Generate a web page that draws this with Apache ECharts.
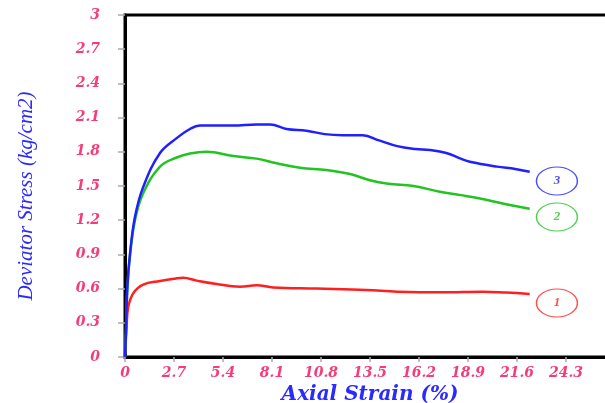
<!DOCTYPE html>
<html><head><meta charset="utf-8">
<script src="https://cdn.jsdelivr.net/npm/echarts@6/dist/echarts.min.js"></script>
<style>html,body{margin:0;padding:0;background:#fff}#c{width:605px;height:403px}</style>
</head><body><div id="c"></div>
<script>
const xTickLabels = ['0','2.7','5.4','8.1','10.8','13.5','16.2','18.9','21.6','24.3','27'];
const yTickLabels = ['0','0.3','0.6','0.9','1.2','1.5','1.8','2.1','2.4','2.7','3'];

const strain3 = [0,0.05,0.13,0.28,0.55,1.0,1.93,2.85,3.58,4.13,5.05,5.96,7.25,8.0,8.9,10.0,11.0,12.0,13.1,14.0,15.0,16.0,16.8,17.7,18.5,19.0,20.5,21.5,22.3];
const stress3 = [0,0.21,0.62,0.91,1.23,1.49,1.79,1.92,2.0,2.03,2.03,2.03,2.04,2.04,2.0,1.985,1.955,1.945,1.945,1.90,1.85,1.825,1.816,1.79,1.74,1.713,1.67,1.65,1.625];

const strain2 = [0,0.05,0.13,0.28,0.55,1.0,1.93,2.85,3.58,4.5,5.97,7.25,8.36,9.64,11.1,12.4,13.5,14.5,15.9,17.35,18.5,19.56,21.0,22.3];
const stress2 = [0,0.21,0.6,0.9,1.2,1.436,1.67,1.75,1.785,1.80,1.763,1.74,1.70,1.66,1.64,1.605,1.55,1.52,1.50,1.45,1.42,1.39,1.34,1.30];

const strain1 = [0,0.09,0.18,0.46,1.0,1.93,2.85,3.2,3.95,5.05,6.34,7.25,8.17,10.56,13.3,15.0,17.5,19.7,21.0,22.3];
const stress1 = [0,0.27,0.44,0.56,0.635,0.667,0.69,0.695,0.67,0.64,0.617,0.63,0.61,0.60,0.588,0.573,0.567,0.573,0.565,0.553];

const tagNames = ['1','2','3'];
const tagStrain = [23.8,23.8,23.8];
const tagStress = [0.474,1.228,1.544];
const colors = ['#ff1f1f','#22c422','#1f1fff'];

const zip = (a,b)=>a.map((v,i)=>[v,b[i]]);
const pink = '#f53c78';
const tickFont = {fontFamily:'DejaVu Serif',fontStyle:'italic',fontWeight:'bold',fontSize:14,color:pink};

const chart = echarts.init(document.getElementById('c'));
const lineS = (d,c)=>({type:'line',data:d,smooth:0.4,symbol:'none',lineStyle:{color:c,width:2.5},z:3});
chart.setOption({
  animation:false,
  grid:{left:125,top:15,width:490,height:342,outerBoundsMode:'none',containLabel:false,show:true,borderColor:'#000',borderWidth:3,backgroundColor:'transparent'},
  xAxis:{type:'value',min:0,max:27,interval:2.7,
    name:'Axial Strain (%)',nameLocation:'middle',nameGap:26,
    nameTextStyle:{fontFamily:'DejaVu Serif',fontStyle:'italic',fontWeight:'bold',fontSize:20,color:'#2a2aff'},
    axisLine:{lineStyle:{color:'#000',width:3}},
    axisTick:{inside:false,length:5,lineStyle:{color:'#aaa',width:1.5}},
    axisLabel:Object.assign({margin:9,showMaxLabel:false,formatter:v=>xTickLabels[Math.round(v/2.7)]},tickFont),
    splitLine:{show:false}},
  yAxis:{type:'value',min:0,max:3,interval:0.3,
    name:'Deviator Stress (kg/cm2)',nameLocation:'middle',nameGap:88,nameRotate:90,
    nameTextStyle:{fontFamily:'Liberation Serif',fontStyle:'italic',fontSize:21,color:'#2a2aff',padding:[0,20,0,0]},
    axisLine:{lineStyle:{color:'#000',width:3}},
    axisTick:{inside:false,length:7,lineStyle:{color:'#aaa',width:1.5}},
    axisLabel:Object.assign({margin:25,formatter:v=>yTickLabels[Math.round(v/0.3)]},tickFont),
    splitLine:{show:false}},
  series:[
    lineS(zip(strain1,stress1),colors[0]),
    lineS(zip(strain2,stress2),colors[1]),
    lineS(zip(strain3,stress3),colors[2]),
    {type:'scatter',symbol:'circle',symbolSize:[41,28],z:4,
     data:tagNames.map((n,i)=>({value:[tagStrain[i],tagStress[i]],name:n,
       itemStyle:{color:'rgba(255,255,255,0)',borderColor:colors[i],borderWidth:1.2,opacity:0.8},
       label:{show:true,position:'inside',formatter:n,color:colors[i],fontFamily:'Liberation Serif',fontStyle:'italic',fontWeight:'bold',fontSize:13}}))}
  ]
});
</script></body></html>
